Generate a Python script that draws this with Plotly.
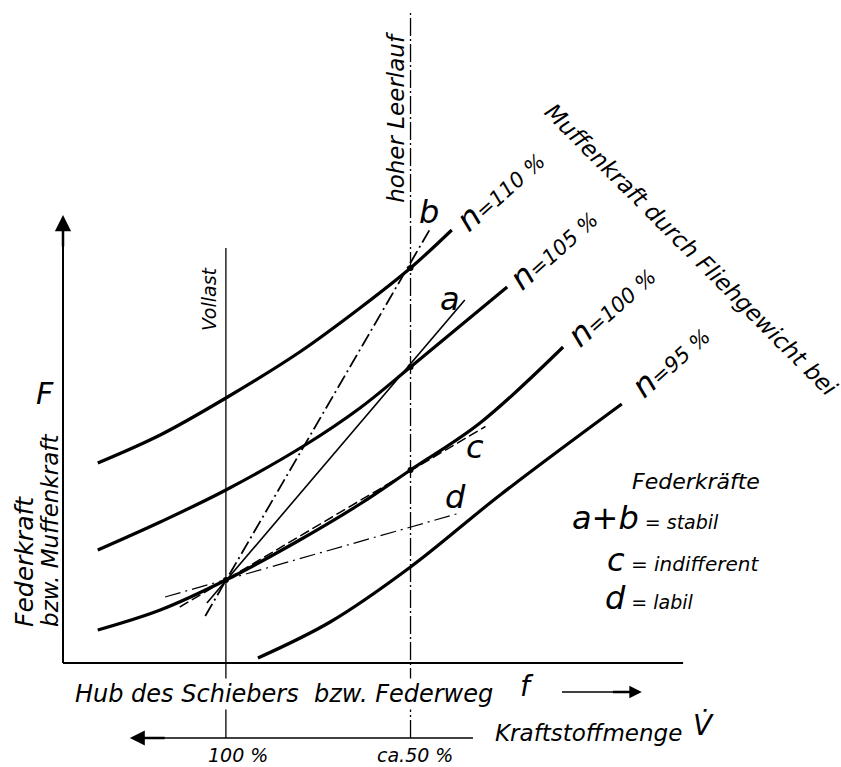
import plotly.graph_objects as go

# ---------------- data (drawing units: f = Federweg, F = Federkraft) ----------------
n110_f = [0.64, 1.79, 3.00, 4.36, 5.47, 6.40, 7.16]
n110_F = [4.00, 4.56, 5.30, 6.22, 7.10, 7.90, 8.66]

n105_f = [0.64, 1.79, 3.00, 4.46, 5.47, 6.40, 8.18]
n105_F = [2.26, 2.82, 3.46, 4.36, 5.10, 5.92, 7.52]

n100_f = [0.64, 1.79, 3.00, 4.36, 5.47, 6.40, 7.68, 9.21]
n100_F = [0.66, 1.06, 1.66, 2.46, 3.18, 3.86, 4.80, 6.32]

n95_f = [3.59, 4.92, 6.40, 8.05, 10.29]
n95_F = [0.10, 0.82, 1.92, 3.36, 5.18]

# spring characteristics through the full-load point
line_a_f = [2.65, 7.40]
line_a_F = [1.20, 7.26]
line_b_f = [2.62, 6.76]
line_b_F = [0.94, 8.68]
line_c_f = [2.15, 7.78]
line_c_F = [1.12, 4.73]
line_d_f = [1.88, 7.31]
line_d_F = [1.32, 3.00]

dots_f = [3.00, 6.40, 6.40, 6.40]
dots_F = [1.66, 7.90, 5.92, 3.86]

vollast_f = 3.0
leerlauf_f = 6.4
speed_labels = ["n=110 %", "n=105 %", "n=100 %", "n= 95 %"]
percent_labels = ["100 %", "ca.50 %"]

# ---------------- page geometry ----------------
W, H = 841, 767
X0, SX = 63.0, 54.3   # pixel of f=0, pixels per unit
Y0, SY = 663.0, 50.0  # pixel of F=0, pixels per unit
xr = [(0 - X0) / SX, (W - X0) / SX]
yr = [(Y0 - H) / SY, (Y0 - 0) / SY]

FONT = "DejaVu Sans"
K = "black"

fig = go.Figure()


def line(xs, ys, width=1.2, dash="solid", shape="linear"):
    fig.add_trace(go.Scatter(x=xs, y=ys, mode="lines",
                             line=dict(color=K, width=width, dash=dash, shape=shape),
                             hoverinfo="skip", showlegend=False))


# axes
line([0, 0], [0, 8.7], width=2)
line([0, 11.42], [0, 0], width=2)
line([1.45, 7.55], [-1.5, -1.5], width=1.5)
line([9.19, 10.5], [-0.58, -0.58], width=1.5)
# vertical reference lines
line([vollast_f, vollast_f], [-1.5, 8.3], width=1.3)
line([leerlauf_f, leerlauf_f], [-1.5, 13.0], width=1.3, dash="18px,3px,2px,3px")

# speed curves
for fx, Fy in [(n110_f, n110_F), (n105_f, n105_F), (n100_f, n100_F), (n95_f, n95_F)]:
    line(fx, Fy, width=3.2, shape="spline")

# spring lines
line(line_a_f, line_a_F, width=1.6)
line(line_b_f, line_b_F, width=1.8, dash="14px,4px,2px,4px")
line(line_c_f, line_c_F, width=1.5, dash="10px,4px")
line(line_d_f, line_d_F, width=1.2, dash="16px,5px,2px,5px")

fig.add_trace(go.Scatter(x=dots_f, y=dots_F, mode="markers",
                         marker=dict(color=K, size=6), hoverinfo="skip", showlegend=False))

ann = []


def text(x, y, s, size=20, angle=0, xanchor="center", bg=None):
    d = dict(x=x, y=y, xref="x", yref="y", text=s, showarrow=False, textangle=angle,
             xanchor=xanchor, yanchor="middle",
             font=dict(family=FONT, size=size, color=K, style="italic"))
    if bg:
        d["bgcolor"] = bg
    ann.append(d)


def arrow(x, y, ax, ay, size=1.2, head=2, width=2):
    ann.append(dict(x=x, y=y, ax=ax, ay=ay, xref="x", yref="y", axref="x", ayref="y",
                    text="", showarrow=True, arrowhead=head, arrowsize=size,
                    arrowwidth=width, arrowcolor=K))


arrow(0, 8.96, 0, 8.3, size=1.3, width=2.5)
arrow(1.23, -1.5, 1.9, -1.5, size=1.2, width=2.5)
arrow(10.66, -0.58, 10.1, -0.58, size=1.0, width=2.5)

text(6.13, 10.92, "hoher Leerlauf", size=23, angle=-90)
text(2.69, 7.28, "Vollast", size=19, angle=-90)
text(6.74, 9.02, "b", size=32)
text(7.13, 7.28, "a", size=32)
text(7.59, 4.32, "c", size=32)
text(7.22, 3.32, "d", size=32)

for (x, y), s in zip([(8.05, 9.46), (9.04, 8.30), (10.11, 7.16), (11.18, 6.04)], speed_labels):
    n, rest = s.split("=")
    text(x, y, "<span style='font-size:32px'>" + n + "</span>=" + rest.strip(), size=21, angle=-42)

text(11.57, 8.26, "Muffenkraft durch Fliehgewicht bei", size=23, angle=45)
text(-0.33, 5.40, "F", size=30)
text(-0.72, 2.04, "Federkraft", size=25, angle=-90)
text(-0.24, 2.66, "bzw. Muffenkraft", size=23, angle=-90)

text(11.66, 3.64, "Federkräfte", size=22)
text(9.34, 2.90, "<span style='font-size:32px'>a+b</span> = stabil", size=19, xanchor="left")
text(9.98, 2.06, "<span style='font-size:32px'>c</span> = indifferent", size=20, xanchor="left")
text(9.94, 1.30, "<span style='font-size:32px'>d</span> = labil", size=19, xanchor="left")

text(0.18, -0.62, "Hub des Schiebers  bzw. Federweg", size=24, xanchor="left", bg="white")
text(8.55, -0.46, "f", size=28)
text(7.92, -1.40, "Kraftstoffmenge", size=23, xanchor="left")
text(11.79, -1.24, "V̇", size=28)
text(3.22, -1.84, percent_labels[0], size=19)
text(6.48, -1.84, percent_labels[1], size=19)

fig.update_layout(
    width=W, height=H, margin=dict(l=0, r=0, t=0, b=0),
    paper_bgcolor="white", plot_bgcolor="white",
    xaxis=dict(range=xr, visible=False, fixedrange=True),
    yaxis=dict(range=yr, visible=False, fixedrange=True),
    annotations=ann, showlegend=False,
)
fig.write_html("out.html")
